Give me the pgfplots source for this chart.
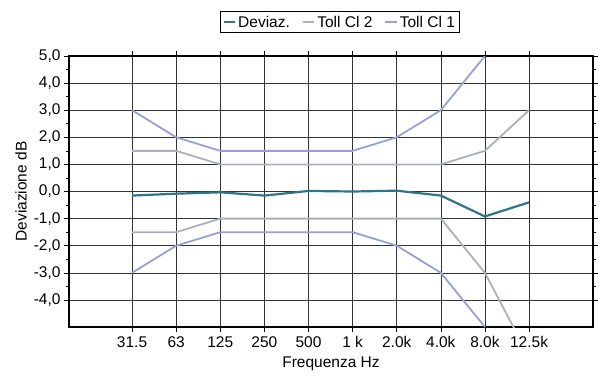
\documentclass[border=0pt]{standalone}
\usepackage{fontspec}
\setmainfont{Liberation Sans}
\usepackage{pgfplots}
\pgfplotsset{compat=1.18}

\definecolor{deviaz}{HTML}{2F7489}
\definecolor{clone}{HTML}{98A0D6}
\definecolor{cltwo}{HTML}{AAB1B9}

\begin{document}
\begin{tikzpicture}
\useasboundingbox (-69pt,-49pt) rectangle (539pt,327pt);
\begin{axis}[
  scale only axis,
  width=524pt, height=271pt,
  xmin=-1.43, xmax=10.45,
  ymin=-5, ymax=5,
  xtick={0,...,9},
  xticklabels={31.5,63,125,250,500,1 k,2.0k,4.0k,8.0k,12.5k},
  ytick={-4,...,5},
  yticklabels={{-4,0},{-3,0},{-2,0},{-1,0},{0,0},{1,0},{2,0},{3,0},{4,0},{5,0}},
  minor y tick num=1,
  tick align=outside,
  major tick length=5pt,
  minor tick length=3pt,
  tick style={black, line width=0.6pt},
  grid=major,
  major grid style={black!80, line width=0.6pt},
  axis line style={black, line width=1.2pt},
  ticklabel style={font=\fontsize{15.5}{17}\selectfont},
  xticklabel style={yshift=-1pt},
  xlabel={Frequenza Hz},
  ylabel={Deviazione dB},
  label style={font=\fontsize{15.5}{17}\selectfont},
  xlabel style={yshift=-2pt},
  legend style={at={(0.517,1)}, anchor=south, yshift=23pt,
    legend columns=3, draw=black, line width=0.8pt,
    font=\fontsize{15.5}{17}\selectfont, inner sep=2pt,
    /tikz/every even column/.append style={column sep=10pt}},
  legend image code/.code={\draw[#1, line width=2pt] (0cm,0cm) -- (0.4cm,0cm);},
]

\addlegendimage{deviaz, line width=2.2pt}
\addlegendentry{Deviaz.}

% Toll Cl 2 (upper)
\addplot[cltwo, line width=1.8pt] coordinates {
  (0,1.5) (1,1.5) (2,1) (3,1) (4,1) (5,1) (6,1) (7,1) (8,1.5) (9,3)
};
\addlegendentry{Toll Cl 2}

% Toll Cl 1 (upper)
\addplot[clone, line width=1.8pt] coordinates {
  (0,3) (1,2) (2,1.5) (3,1.5) (4,1.5) (5,1.5) (6,2) (7,3) (8,5)
};
\addlegendentry{Toll Cl 1}

% Toll Cl 2 (lower)
\addplot[cltwo, line width=1.8pt, forget plot] coordinates {
  (0,-1.5) (1,-1.5) (2,-1) (3,-1) (4,-1) (5,-1) (6,-1) (7,-1) (8,-3) (9,-6.1)
};

% Toll Cl 1 (lower)
\addplot[clone, line width=1.8pt, forget plot] coordinates {
  (0,-3) (1,-2) (2,-1.5) (3,-1.5) (4,-1.5) (5,-1.5) (6,-2) (7,-3) (8,-5)
};

% Deviazione
\addplot[deviaz, line width=2.2pt, forget plot] coordinates {
  (0,-0.15) (1,-0.08) (2,-0.03) (3,-0.15) (4,0.02)
  (5,0.0) (6,0.03) (7,-0.15) (8,-0.92) (9,-0.4)
};

\end{axis}
\end{tikzpicture}
\end{document}
